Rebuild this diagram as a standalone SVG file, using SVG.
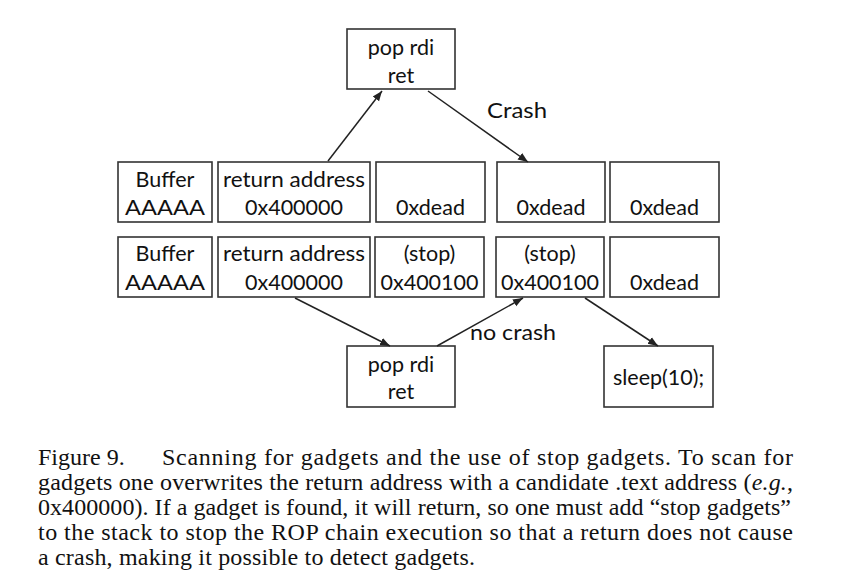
<svg xmlns="http://www.w3.org/2000/svg" width="856" height="585" viewBox="0 0 856 585">
<defs>
<marker id="ah" viewBox="0 0 10 10" refX="10" refY="5" markerWidth="10" markerHeight="10" markerUnits="userSpaceOnUse" orient="auto">
<path d="M0,1 L10,5 L0,9 z" fill="#222"/>
</marker>
<style>
.box{fill:#fff;stroke:#333;stroke-width:1.6}
.t{font-family:Lato,"Open Sans","DejaVu Sans",sans-serif;font-size:21.5px;fill:#111;text-anchor:middle}
.lbl{font-family:Lato,"Open Sans","DejaVu Sans",sans-serif;font-size:21.5px;fill:#111}
.edge{stroke:#222;stroke-width:1.5;fill:none;marker-end:url(#ah)}
.cap{font-family:"Liberation Serif","Times New Roman",serif;font-size:24px;fill:#111}
</style>
</defs>
<rect width="856" height="585" fill="#fff"/>

<g id="popTop"><rect class="box" x="347" y="29" width="108" height="60"/><text class="t" x="401" y="55">pop rdi</text><text class="t" x="401" y="83">ret</text></g>

<g id="r1buf"><rect class="box" x="118" y="162" width="94" height="60"/><text class="t" x="165" y="187">Buffer</text><text class="t" x="165" y="215" textLength="80" lengthAdjust="spacingAndGlyphs">AAAAA</text></g>
<g id="r1ret"><rect class="box" x="218" y="162" width="152" height="60"/><text class="t" x="294" y="187" textLength="142" lengthAdjust="spacingAndGlyphs">return address</text><text class="t" x="294" y="215">0x400000</text></g>
<g id="r1d1"><rect class="box" x="376" y="162" width="109" height="60"/><text class="t" x="430.5" y="215">0xdead</text></g>
<g id="r1d2"><rect class="box" x="497" y="162" width="108" height="60"/><text class="t" x="551" y="215">0xdead</text></g>
<g id="r1d3"><rect class="box" x="610" y="162" width="109" height="60"/><text class="t" x="664.5" y="215">0xdead</text></g>

<g id="r2buf"><rect class="box" x="118" y="237" width="94" height="60"/><text class="t" x="165" y="261">Buffer</text><text class="t" x="165" y="290" textLength="80" lengthAdjust="spacingAndGlyphs">AAAAA</text></g>
<g id="r2ret"><rect class="box" x="218" y="237" width="152" height="60"/><text class="t" x="294" y="261" textLength="142" lengthAdjust="spacingAndGlyphs">return address</text><text class="t" x="294" y="290">0x400000</text></g>
<g id="r2s1"><rect class="box" x="375" y="237" width="109" height="60"/><text class="t" x="429.5" y="261">(stop)</text><text class="t" x="429.5" y="290">0x400100</text></g>
<g id="r2s2"><rect class="box" x="496" y="237" width="108" height="60"/><text class="t" x="550" y="261">(stop)</text><text class="t" x="550" y="290">0x400100</text></g>
<g id="r2d"><rect class="box" x="610" y="237" width="109" height="60"/><text class="t" x="664.5" y="290">0xdead</text></g>

<g id="popBot"><rect class="box" x="347" y="346" width="108" height="61"/><text class="t" x="401" y="372">pop rdi</text><text class="t" x="401" y="399">ret</text></g>
<g id="sleep"><rect class="box" x="604" y="346" width="109" height="61"/><text class="t" x="658.5" y="385">sleep(10);</text></g>

<g id="connectors">
<line class="edge" x1="328" y1="161" x2="382" y2="91"/>
<line class="edge" x1="428" y1="91" x2="528" y2="162"/>
<text class="lbl" x="487" y="118" textLength="60" lengthAdjust="spacingAndGlyphs">Crash</text>
<line class="edge" x1="295" y1="298" x2="390" y2="346"/>
<line class="edge" x1="437" y1="346" x2="523" y2="298"/>
<text class="lbl" x="470" y="340" textLength="86" lengthAdjust="spacingAndGlyphs">no crash</text>
<line class="edge" x1="585" y1="298" x2="658" y2="346"/>
</g>

<g id="caption">
<text class="cap" x="38" y="465">Figure 9.</text>
<text class="cap" x="162" y="465" textLength="631" lengthAdjust="spacing">Scanning for gadgets and the use of stop gadgets. To scan for</text>
<text class="cap" x="38" y="490" textLength="755" lengthAdjust="spacing">gadgets one overwrites the return address with a candidate .text address (<tspan font-style="italic">e.g.</tspan>,</text>
<text class="cap" x="38" y="515" textLength="753" lengthAdjust="spacing">0x400000). If a gadget is found, it will return, so one must add “stop gadgets”</text>
<text class="cap" x="38" y="540" textLength="755" lengthAdjust="spacing">to the stack to stop the ROP chain execution so that a return does not cause</text>
<text class="cap" x="38" y="565" textLength="437" lengthAdjust="spacing">a crash, making it possible to detect gadgets.</text>
</g>
</svg>
